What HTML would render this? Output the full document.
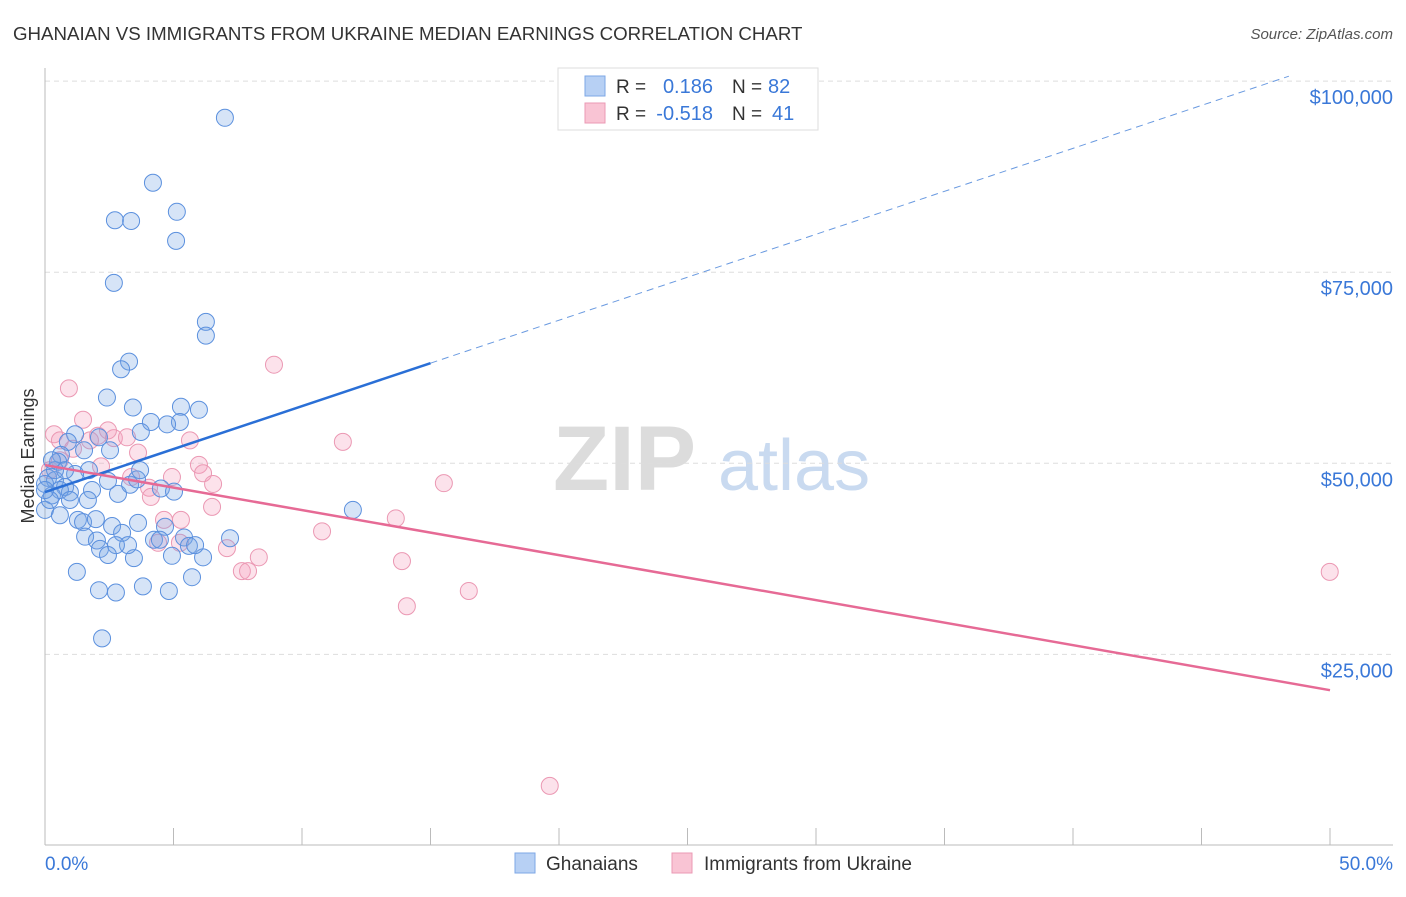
<!DOCTYPE html>
<html><head><meta charset="utf-8"><style>
body{margin:0;background:#fff;font-family:"Liberation Sans",sans-serif;}
svg text{font-family:"Liberation Sans",sans-serif;}
</style></head><body>
<svg id="chart" width="1406" height="892" viewBox="0 0 1406 892" xmlns="http://www.w3.org/2000/svg">
<text x="13" y="40" font-size="18.7" fill="#333">GHANAIAN VS IMMIGRANTS FROM UKRAINE MEDIAN EARNINGS CORRELATION CHART</text>
<text x="1393" y="39" font-size="15" fill="#555" text-anchor="end" font-style="italic">Source: ZipAtlas.com</text>
<g>
<text x="553" y="490" font-size="92" fill="#dcdcdc" font-family="Liberation Serif" font-weight="bold">ZIP</text>
<text x="718" y="490" font-size="72" fill="#c9daf0">atlas</text>
</g>
<g id="grid"></g>
<g id="axes"></g>
<g id="pts"></g>
<g id="lines"></g>
<text transform="translate(34,456) rotate(-90)" font-size="18" fill="#333" text-anchor="middle">Median Earnings</text>
<g>
<rect x="558" y="68" width="260" height="62" fill="#fff" stroke="#ddd"/>
<rect x="585" y="76" width="20" height="20" fill="#b7d0f4" stroke="#7ea7e6"/>
<rect x="585" y="103" width="20" height="20" fill="#f9c4d4" stroke="#eb9ab4"/>
<text x="616" y="93" font-size="19" fill="#333">R = </text><text x="713" y="93" font-size="20" fill="#3a78d8" text-anchor="end">0.186</text>
<text x="732" y="93" font-size="19" fill="#333">N = </text><text x="768" y="93" font-size="20" fill="#3a78d8">82</text>
<text x="616" y="120" font-size="19" fill="#333">R = </text><text x="713" y="120" font-size="20" fill="#3a78d8" text-anchor="end">-0.518</text>
<text x="732" y="120" font-size="19" fill="#333">N = </text><text x="772" y="120" font-size="20" fill="#3a78d8">41</text>
</g>
<g>
<rect x="515" y="853" width="20" height="20" fill="#b7d0f4" stroke="#7ea7e6"/>
<text x="546" y="870" font-size="19" fill="#333">Ghanaians</text>
<rect x="672" y="853" width="20" height="20" fill="#f9c4d4" stroke="#eb9ab4"/>
<text x="704" y="870" font-size="19" fill="#333">Immigrants from Ukraine</text>
</g>
</svg>
<script>
const yTicks=[25000,50000,75000,100000];
const yTickLabels=["$25,000","$50,000","$75,000","$100,000"];
const xTickLabels=["0.0%","50.0%"];
const blueX=[7.0,4.2,5.13,2.72,3.35,5.1,2.68,6.26,6.26,3.27,2.96,2.41,3.42,5.29,5.99,4.12,5.25,4.75,3.73,1.17,2.1,0.89,2.53,1.52,0.62,0.51,1.71,1.17,0.12,0.39,0,0.78,1.83,0.97,2.84,0.27,0.58,2.45,3.31,3.58,4.51,5.02,3.62,1.28,1.48,1.98,2.61,1.56,2.02,3.0,4.24,4.67,5.41,5.6,4.94,6.15,7.2,2.14,3.46,1.24,5.72,2.1,2.76,3.81,4.82,2.22,11.98,0,0.19,0.78,3.7,3.23,4.47,2.76,2.45,5.84,0.39,0.97,1.67,0.58,0,0.27];
const blueY=[95200,86700,82900,81800,81700,79100,73600,68500,66700,63300,62300,58600,57300,57400,57000,55400,55400,55100,54100,53800,53400,52800,51700,51700,51100,50200,49100,48600,48100,47800,47300,46900,46500,46200,46000,45800,46500,47700,47200,47900,46700,46300,42200,42600,42300,42700,41800,40400,39900,40900,40000,41700,40300,39200,37900,37700,40200,38800,37600,35800,35100,33400,33100,33900,33300,27100,43900,43900,45200,49100,49100,39300,40000,39300,38000,39300,49100,45200,45200,43200,46500,50400];
const pinkX=[0.93,8.91,1.48,2.06,0.35,0.58,1.75,2.68,3.19,2.45,1.09,5.64,3.62,2.18,3.35,5.99,6.15,4.94,4.05,4.12,6.54,6.5,11.59,15.52,10.78,13.65,4.63,5.29,7.08,8.32,7.66,7.9,13.89,16.49,14.08,49.99,19.64,4.4,5.25,0.19,0.58];
const pinkY=[59800,62900,55700,53600,53800,53000,53000,53300,53400,54300,51900,53000,51400,49600,48200,49800,48700,48200,46800,45600,47300,44300,52800,47400,41100,42800,42600,42600,38900,37700,35900,35900,37200,33300,31300,35800,7800,39600,39600,49100,50400];
const blueFit=[46240,1124];   // intercept, slope per %
const pinkFit=[49770,-589];
const NS="http://www.w3.org/2000/svg";
const X=p=>45+p*25.7;
const Y=v=>845.5-v*0.007644;
function mk(tag,attrs,parent){const e=document.createElementNS(NS,tag);for(const k in attrs)e.setAttribute(k,attrs[k]);document.getElementById(parent).appendChild(e);return e;}
yTicks.forEach((t,i)=>{
 const g=mk('line',{x1:45,x2:1393,y1:Y(t),y2:Y(t),stroke:'#ddd','stroke-dasharray':'5,4'},'grid');
 
 
 const l=mk('text',{x:1393,y:Y(t)+23,'font-size':20,fill:'#3a78d8','text-anchor':'end'},'grid');
 l.textContent=yTickLabels[i];
 
 
});
mk('line',{x1:45,x2:45,y1:68,y2:845,stroke:'#bbb'},'axes');
mk('line',{x1:45,x2:1393,y1:845,y2:845,stroke:'#bbb'},'axes');
for(let p=0;p<=50;p+=5){const t=mk('line',{x1:X(p),x2:X(p),y1:828,y2:845,stroke:'#bbb'},'axes');
 
 }
const xl0=mk('text',{x:45,y:870,'font-size':19,fill:'#3a78d8'},'axes');xl0.textContent=xTickLabels[0];


const xl1=mk('text',{x:1393,y:870,'font-size':19,fill:'#3a78d8','text-anchor':'end'},'axes');xl1.textContent=xTickLabels[1];


pinkX.forEach((p,i)=>{const c=mk('circle',{cx:X(p),cy:Y(pinkY[i]),r:8.5,fill:'rgba(244,160,188,0.3)',stroke:'#eb98b3','stroke-width':1},'pts');
 
 });
blueX.forEach((p,i)=>{const c=mk('circle',{cx:X(p),cy:Y(blueY[i]),r:8.5,fill:'rgba(120,165,230,0.3)',stroke:'#5b90de','stroke-width':1},'pts');
 
 });
const bl=mk('line',{x1:X(0),y1:Y(blueFit[0]),x2:X(15),y2:Y(blueFit[0]+15*blueFit[1]),stroke:'#2a6fd6','stroke-width':2.5},'lines');


const bd=mk('line',{x1:X(15),y1:Y(blueFit[0]+15*blueFit[1]),x2:X(48.4),y2:Y(blueFit[0]+48.4*blueFit[1]),stroke:'#6a9ae0','stroke-width':1,'stroke-dasharray':'7,5'},'lines');


const pl=mk('line',{x1:X(0),y1:Y(pinkFit[0]),x2:X(50),y2:Y(pinkFit[0]+50*pinkFit[1]),stroke:'#e66a95','stroke-width':2.5},'lines');


</script>
</body></html>
